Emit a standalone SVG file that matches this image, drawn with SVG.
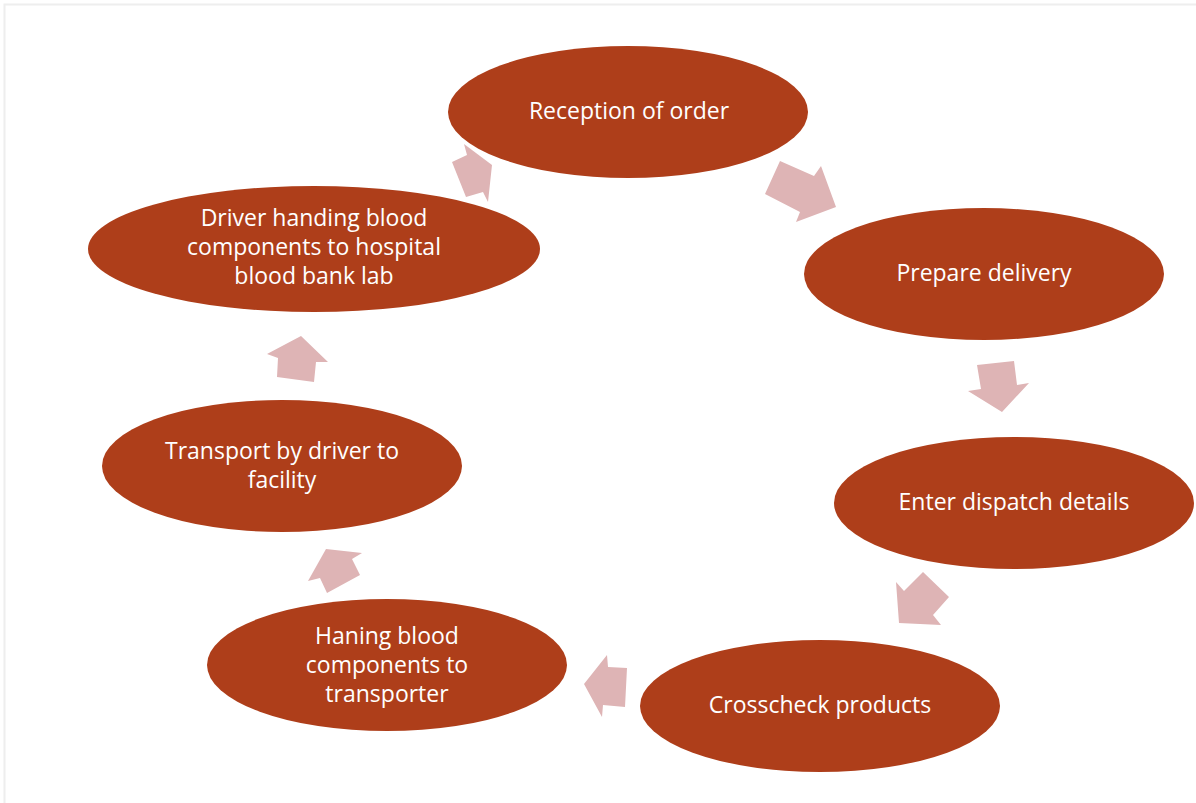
<svg xmlns="http://www.w3.org/2000/svg" width="1196" height="803" viewBox="0 0 1196 803">
  <style>
    .step { fill: #AE3E1A; }
    .label { fill: #FFFFFF; font-family: "Open Sans", "Liberation Sans", Arial, sans-serif; font-size: 23px; text-anchor: middle; }
    .flow { fill: #DEB4B5; }
  </style>
  <rect x="0" y="0" width="1196" height="803" fill="#FFFFFF"/>
  <!-- page frame -->
  <path d="M4.5 803 V4.5 H1196" fill="none" stroke="#EEEEEE" stroke-width="2"/>

  <!-- connectors: block arrows between the steps -->
  <g id="connectors">
    <polygon class="flow" points="464,144 467,155 452,162 466,197 483,192 488,202 492,165"/>
    <polygon class="flow" points="780,161 814,176 821,166 836,207 796,222 800,212 765,194"/>
    <polygon class="flow" points="977,365 1014,361 1017,385 1029,383 1002,412 968,391 981,389"/>
    <polygon class="flow" points="923,572 949,597 933,615 941,625 899,623 896,582 904,591"/>
    <polygon class="flow" points="627,668 625,707 603,705 602,717 584,684 607,655 608,667"/>
    <polygon class="flow" points="360,575 327,593 320,578 308,581 326,549 362,553 352,559"/>
    <polygon class="flow" points="314,382 277,377 278,358 267,354 301,336 328,362 316,362"/>
  </g>

  <g id="reception">
    <ellipse class="step" cx="628" cy="112" rx="180" ry="66"/>
    <text class="label" x="629" y="119">Reception of order</text>
  </g>
  <g id="prepare">
    <ellipse class="step" cx="984" cy="274" rx="180" ry="66"/>
    <text class="label" x="984" y="281">Prepare delivery</text>
  </g>
  <g id="dispatch">
    <ellipse class="step" cx="1014" cy="503" rx="180" ry="66"/>
    <text class="label" x="1014" y="510">Enter dispatch details</text>
  </g>
  <g id="crosscheck">
    <ellipse class="step" cx="820" cy="706" rx="180" ry="66"/>
    <text class="label" x="820" y="713">Crosscheck products</text>
  </g>
  <g id="handover">
    <ellipse class="step" cx="387" cy="665" rx="180" ry="66"/>
    <text class="label" x="387" y="644">Haning blood</text>
    <text class="label" x="387" y="673">components to</text>
    <text class="label" x="387" y="702">transporter</text>
  </g>
  <g id="transport">
    <ellipse class="step" cx="282" cy="466" rx="180" ry="66"/>
    <text class="label" x="282" y="459">Transport by driver to</text>
    <text class="label" x="282" y="488">facility</text>
  </g>
  <g id="delivery">
    <ellipse class="step" cx="314" cy="249" rx="226" ry="63"/>
    <text class="label" x="314" y="226">Driver handing blood</text>
    <text class="label" x="314" y="255">components to hospital</text>
    <text class="label" x="314" y="284">blood bank lab</text>
  </g>
</svg>
